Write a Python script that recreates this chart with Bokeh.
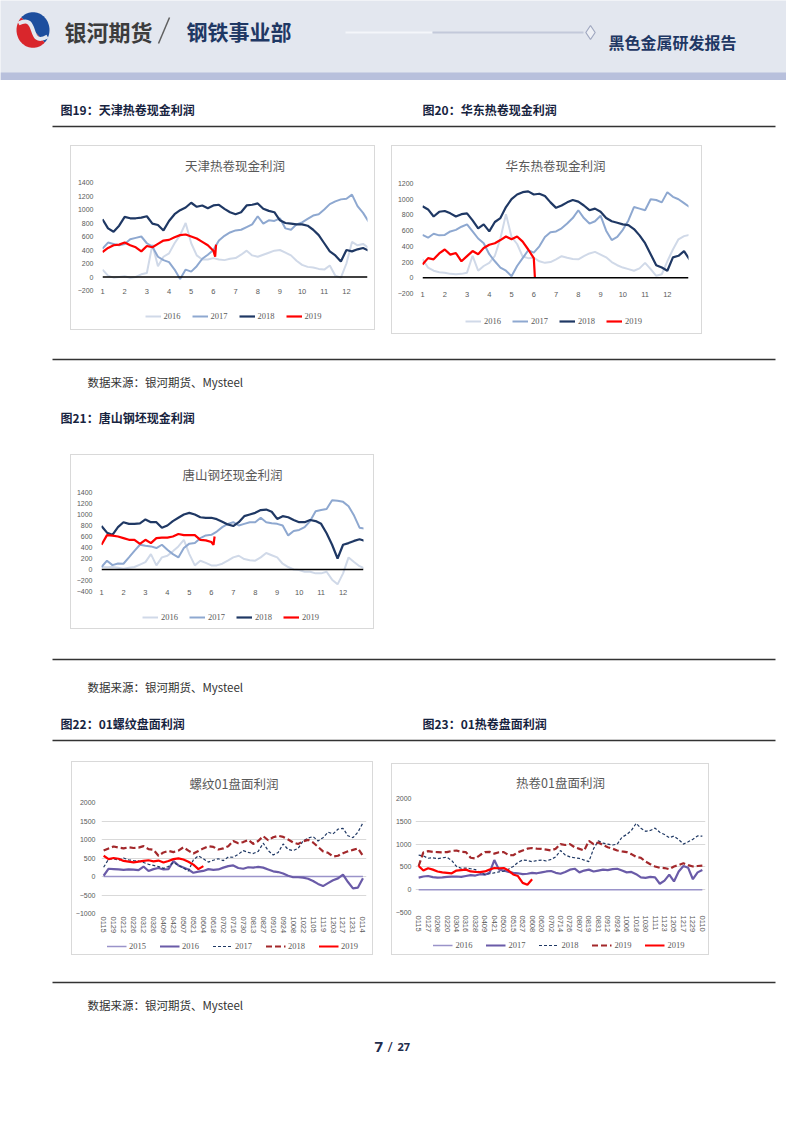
import math
from bokeh.plotting import figure
from bokeh.layouts import column, row
from bokeh.models import Range1d, Spacer, Legend, LegendItem, Span, FixedTicker
from bokeh.core.properties import value
from bokeh.embed import file_html
from bokeh.resources import INLINE

CJK = "Noto Sans CJK SC"
NAVY = "#1F3864"
CAP = "#17243F"
GRAY = "#595959"

# ---------------- data ----------------
month_ticks = [1, 2, 3, 4, 5, 6, 7, 8, 9, 10, 11, 12]
ticks_tj = [-200, 0, 200, 400, 600, 800, 1000, 1200, 1400]
ticks_hd = [-200, 0, 200, 400, 600, 800, 1000, 1200]
ticks_ts = [-400, -200, 0, 200, 400, 600, 800, 1000, 1200, 1400]
ticks_lw = [-1000, -500, 0, 500, 1000, 1500, 2000]
ticks_rj = [-500, 0, 500, 1000, 1500, 2000]

# Fig19 Tianjin HRC cash profit (4 readings per month from month 1)
tj_2016 = [110, 20, -10, 0, 10, -10, 0, 40, 60, 480, 160, 300, 350, 500, 620, 800, 500, 320, 260, 260,
           280, 260, 250, 270, 280, 330, 390, 320, 300, 330, 360, 390, 400, 360, 320, 240, 180, 150, 140, 120,
           110, 170, 20, -10, 200, 520, 470, 490, 430]
tj_2017 = [420, 510, 490, 470, 490, 560, 580, 600, 500, 450, 300, 250, 220, 110, -30, 110, 80, 160, 270, 330,
           400, 540, 610, 660, 690, 700, 740, 780, 900, 790, 840, 830, 870, 720, 700, 780, 810, 860, 910, 930,
           1000, 1080, 1120, 1150, 1160, 1220, 1050, 950, 820]
tj_2018 = [855, 720, 670, 760, 890, 870, 870, 880, 900, 790, 770, 690, 830, 930, 990, 1030, 1100, 1040, 1060, 1020,
           1060, 1070, 1010, 960, 930, 960, 1060, 1070, 1090, 1010, 980, 960, 840, 800, 790, 780, 780, 760, 700, 620,
           500, 380, 320, 230, 400, 380, 410, 430, 390]
tj_2019 = [370, 430, 470, 480, 510, 470, 440, 380, 460, 440, 490, 540, 550, 590, 620, 630, 600, 570, 520, 470, 390]
tj_2019_tail_t = [6.08, 6.12]
tj_2019_tail = [300, 480]

# Fig20 East China HRC cash profit
hd_2016 = [235, 130, 90, 70, 65, 50, 45, 50, 65, 280, 90, 150, 190, 280, 500, 810, 520, 430, 270, 250,
           255, 210, 190, 200, 235, 275, 255, 240, 235, 275, 310, 330, 295, 260, 200, 160, 130, 110, 90, 120,
           190, 110, 25, 45, 210, 360, 490, 530, 545]
hd_2017 = [545, 510, 560, 540, 545, 590, 610, 650, 680, 590, 500, 440, 300, 210, 130, 90, 20, 150, 250, 350,
           320, 400, 520, 580, 590, 630, 690, 760, 860, 760, 690, 720, 790, 600, 480, 520, 610, 730, 900, 880,
           860, 1000, 990, 960, 1090, 1030, 1000, 950, 900]
hd_2018 = [910, 870, 780, 840, 850, 820, 780, 810, 820, 730, 630, 680, 590, 710, 760, 900, 1000, 1060, 1090, 1100,
           1060, 1070, 1040, 960, 890, 920, 960, 990, 970, 920, 860, 880, 840, 760, 720, 700, 680, 670, 620, 540,
           440, 300, 160, 130, 90, 260, 280, 340, 230]
hd_2019 = [170, 250, 235, 310, 360, 295, 315, 210, 275, 340, 300, 380, 420, 440, 480, 525, 490, 525, 460, 360, 250]
hd_2019_tail_t = [6.05]
hd_2019_tail = [0]

# Fig21 Tangshan billet cash profit
ts_2016 = [45, 40, 45, 30, 15, 30, 45, 90, 135, 280, 75, 220, 250, 330, 420, 540, 280, 75, 160, 120,
           75, 75, 105, 160, 220, 250, 190, 170, 160, 220, 300, 260, 220, 105, 45, 0, -10, -40, -40, -70,
           -70, -40, -185, -270, -70, 220, 135, 60, 15]
ts_2017 = [45, 160, 80, 110, 105, 220, 340, 450, 430, 420, 390, 450, 360, 280, 220, 390, 470, 480, 570, 620,
           630, 690, 770, 830, 860, 800, 830, 860, 860, 940, 860, 840, 830, 800, 620, 700, 720, 770, 880, 1060,
           1080, 1100, 1260, 1250, 1230, 1150, 980, 760, 740]
ts_2018 = [790, 670, 630, 770, 860, 830, 830, 840, 910, 860, 860, 760, 800, 880, 940, 1000, 1030, 1000, 950, 940,
           940, 915, 870, 820, 790, 860, 970, 1000, 1030, 1080, 1090, 1050, 920, 970, 950, 900, 860, 860, 900, 880,
           830, 660, 450, 200, 450, 480, 520, 550, 520]
ts_2019 = [450, 625, 615, 600, 570, 540, 540, 465, 540, 480, 570, 580, 580, 600, 645, 625, 625, 625, 540, 530, 500]
ts_2019_tail_t = [6.1, 6.15]
ts_2019_tail = [450, 600]

# Fig22 rebar 01 futures profit (weekly readings from 0115)
lw_tick_labels = ["0115", "0129", "0212", "0226", "0312", "0326", "0409", "0423", "0507", "0521", "0604", "0618",
                  "0702", "0716", "0730", "0813", "0827", "0910", "0924", "1008", "1022", "1105", "1119", "1203",
                  "1217", "1231", "0114"]
lw_2015 = [0, 0, 0, 0, 0, 0, 0, 0, 0, 0, 0, 0, 0, 0, 0, 0, 0, 0, 0, 0, 0, 0, 0, 0, 0, 0, 0]
lw_2016 = [20, 210, 200, 190, 180, 190, 185, 170, 270, 150, 200, 230, 190, 200, 420, 300, 240, 190, 100, 130,
           150, 200, 180, 190, 240, 280, 300, 230, 210, 250, 240, 260, 240, 190, 140, 120, 80, 20, -20, -20,
           -30, -60, -120, -200, -260, -180, -100, -50, 50, -150, -320, -300, -50]
lw_2017 = [250, 470, 480, 440, 500, 450, 430, 420, 380, 330, 300, 270, 220, 270, 380, 300, 230, 150, 450, 560,
           480, 390, 440, 480, 430, 530, 520, 600, 700, 650, 620, 680, 900, 700, 580, 650, 880, 730, 700, 760,
           960, 1040, 1080, 960, 1050, 1200, 1150, 1280, 1300, 1100, 1050, 1200, 1450]
lw_2018 = [700, 760, 810, 780, 760, 790, 770, 780, 820, 740, 720, 560, 650, 690, 660, 700, 790, 700, 620, 690,
           760, 820, 800, 730, 760, 820, 960, 900, 930, 990, 880, 960, 1090, 980, 1060, 1100, 1070, 1000, 920, 880,
           950, 990, 920, 800, 680, 640, 540, 560, 630, 680, 720, 760, 560]
lw_2019 = [560, 470, 500, 480, 420, 400, 380, 400, 420, 440, 410, 430, 380, 420, 470, 490, 460, 400, 320, 200, 280]

# Fig23 HRC 01 futures profit (readings every 6 days from 0115)
rj_tick_labels = ["0115", "0127", "0208", "0220", "0304", "0316", "0328", "0409", "0421", "0503", "0515", "0527",
                  "0608", "0620", "0702", "0714", "0726", "0807", "0819", "0831", "0912", "0924", "1006", "1018",
                  "1030", "1111", "1123", "1205", "1217", "1229", "0110"]
rj_2016 = [0, 0, 0, 0, 0, 0, 0, 0, 0, 0, 0, 0, 0, 0, 0, 0, 0, 0, 0, 0, 0, 0, 0, 0, 0, 0, 0, 0, 0, 0, 0]
rj_2017 = [265, 290, 300, 275, 265, 270, 280, 285, 290, 280, 300, 320, 310, 340, 330, 370, 650, 440, 420, 390,
           370, 360, 340, 350, 370, 360, 380, 400, 410, 370, 350, 390, 440, 460, 380, 420, 440, 400, 420, 440,
           430, 450, 460, 420, 380, 390, 340, 270, 260, 280, 270, 130, 200, 330, 180, 400, 520, 480, 230, 380, 430]
rj_2018 = [760, 740, 690, 700, 680, 700, 710, 640, 510, 470, 475, 460, 440, 380, 335, 350, 370, 390, 405, 450,
           510, 600, 650, 640, 615, 640, 650, 630, 665, 720, 860, 760, 720, 700, 685, 650, 615, 900, 1070, 1020,
           1000, 980, 1000, 1150, 1210, 1300, 1455, 1350, 1280, 1300, 1350, 1260, 1210, 1140, 1175, 1100, 1000,
           1050, 1105, 1180, 1175]
rj_2019d = [520, 820, 845, 830, 825, 820, 825, 850, 860, 830, 825, 700, 685, 760, 825, 830, 790, 820, 825, 760,
            755, 820, 860, 900, 915, 900, 895, 880, 860, 900, 1000, 980, 1000, 930, 895, 860, 1070, 1000, 1035, 980,
            930, 900, 860, 840, 825, 780, 720, 700, 615, 560, 510, 480, 475, 450, 510, 540, 580, 540, 510, 520, 530]
rj_2019 = [520, 420, 470, 440, 400, 380, 370, 360, 420, 430, 440, 400, 390, 385, 400, 440, 475, 470, 475, 420,
           335, 300, 150, 110, 230]


def months(vals):
    return [1 + i / 4 for i in range(len(vals))]


def days(vals, step):
    return [step * i for i in range(len(vals))]


# ---------------- helpers ----------------
BOX_STYLE = {"background-color": "white", "box-shadow": "inset 0 0 0 1px #D9D9D9"}


def base_fig(w, h, mb, xr, yr):
    p = figure(width=w, height=h, x_range=Range1d(*xr), y_range=Range1d(*yr),
               output_backend="svg", toolbar_location=None,
               min_border_left=mb[0], min_border_right=mb[1],
               min_border_top=mb[2], min_border_bottom=mb[3])
    p.outline_line_color = None
    p.background_fill_color = "white"
    p.border_fill_color = "white"
    p.border_fill_alpha = 0
    return p


def style_axes(p, ystand, xstand, xsize="7px"):
    for ax in (p.xaxis[0], p.yaxis[0]):
        ax.axis_line_color = None
        ax.major_tick_line_color = None
        ax.minor_tick_line_color = None
        ax.major_tick_out = 0
        ax.major_tick_in = 0
        ax.minor_tick_out = 0
        ax.minor_tick_in = 0
        ax.major_label_text_color = GRAY
        ax.major_label_text_font = "Liberation Sans"
        ax.major_label_text_font_size = "7px"
    p.xaxis[0].major_label_text_font_size = xsize
    p.yaxis[0].major_label_standoff = ystand
    p.xaxis[0].major_label_standoff = xstand


def style_title(p, text, off, standoff):
    p.title.text = text
    p.title.align = "center"
    p.title.text_font = CJK
    p.title.text_font_size = "12.5px"
    p.title.text_font_style = "normal"
    p.title.text_color = GRAY
    p.title.offset = off
    p.title.standoff = standoff


def legend_fig(w, h, series, gw, spacing):
    """Strip under the chart carrying its legend; the handles sit outside the strip's ranges."""
    lf = figure(width=w, height=h, x_range=Range1d(0, 1), y_range=Range1d(0, 1),
                output_backend="svg", toolbar_location=None, min_border=0,
                x_axis_location=None, y_axis_location=None)
    lf.grid.visible = False
    lf.outline_line_color = None
    lf.background_fill_alpha = 0
    lf.border_fill_alpha = 0
    items = []
    for s in series:
        label, color, lw, dash = s[0], s[3], s[4], (s[5] if len(s) > 5 else "solid")
        r = lf.line(x=[5, 6], y=[5, 5], line_color=color, line_width=lw, line_dash=dash)
        items.append(LegendItem(label=value(label), renderers=[r]))
    leg = Legend(items=items, orientation="horizontal", location="center",
                 label_text_font="Liberation Serif", label_text_font_size="8.5px",
                 label_text_color=GRAY, glyph_width=gw, glyph_height=8,
                 label_standoff=3, spacing=spacing, padding=0, margin=0,
                 border_line_color=None, background_fill_alpha=0)
    lf.add_layout(leg)
    return lf


C16, C17, C18, C19 = "#D0D9E8", "#8EA8D0", "#1F3864", "#FF0000"


def monthly_chart(title, w, hc, hl, mb, xhi, yticks, series, toff, tstand):
    p = base_fig(w, hc, mb, (1, xhi), (yticks[0], yticks[-1]))
    p.grid.visible = False
    style_title(p, title, toff, tstand)
    for label, xs, ys, color, lw in series:
        p.line(xs, ys, line_color=color, line_width=lw)
    p.add_layout(Span(location=0, dimension="width", line_color="#000000", line_width=1.5))
    p.yaxis[0].ticker = FixedTicker(ticks=yticks)
    p.xaxis[0].ticker = FixedTicker(ticks=month_ticks)
    style_axes(p, 9, -2, "7.5px")
    lf = legend_fig(w, hl, series, 16, 8)
    return column(p, lf, styles=BOX_STYLE)


def daily_chart(title, w, hc, hl, mb, xr, yticks, tick_step, tick_labels, series, toff, ystand, tstand):
    p = base_fig(w, hc, mb, xr, (yticks[0], yticks[-1]))
    p.xgrid.visible = False
    p.ygrid[0].grid_line_color = "#D9D9D9"
    p.ygrid[0].grid_line_width = 1
    style_title(p, title, toff, tstand)
    for label, xs, ys, color, lw, dash in series:
        p.line(xs, ys, line_color=color, line_width=lw, line_dash=dash)
    p.yaxis[0].ticker = FixedTicker(ticks=yticks)
    tpos = [tick_step * i for i in range(len(tick_labels))]
    p.xaxis[0].ticker = FixedTicker(ticks=tpos)
    p.xaxis[0].major_label_overrides = {t: s for t, s in zip(tpos, tick_labels)}
    p.xaxis[0].major_label_orientation = "vertical"
    style_axes(p, ystand, 3, "7.5px")
    lf = legend_fig(w, hl, series, 20, 10)
    return column(p, lf, styles=BOX_STYLE)


def band(y0, y1, bg="white"):
    p = figure(width=786, height=y1 - y0, x_range=Range1d(8, 794), y_range=Range1d(y1, y0),
               output_backend="svg", toolbar_location=None, min_border=0,
               x_axis_location=None, y_axis_location=None)
    p.grid.visible = False
    p.outline_line_color = None
    p.background_fill_color = bg
    p.border_fill_color = bg
    return p


def caption(p, x, y, txt):
    p.text(x=[x], y=[y], text=[txt], text_font=value(CJK), text_font_size="12px",
           text_font_style="bold", text_color=CAP, text_baseline="middle", text_align="left")


def source(p, y):
    p.text(x=[95], y=[y], text=["数据来源：银河期货、Mysteel"], text_font=value(CJK),
           text_font_size="11.5px", text_color="#333333", text_baseline="middle", text_align="left")


def rule(p, y):
    p.segment(x0=[60], y0=[y], x1=[783], y1=[y], line_color="#333333", line_width=1.5)


# ---------------- header ----------------
hdr = band(8, 88, "#E3E7EF")
hdr.quad(left=[8], right=[794], top=[80], bottom=[88], fill_color="#B8C0DC", line_color=None)
lx, ly, lr = 40.5, 37.5, 16.5
blue_x = [lx + lr * math.cos(math.radians(a)) for a in range(-45, 136, 5)]
blue_y = [ly - lr * 1.08 * math.sin(math.radians(a)) for a in range(-45, 136, 5)]
red_x = [lx + lr * math.cos(math.radians(a)) for a in range(135, 316, 5)]
red_y = [ly - lr * 1.08 * math.sin(math.radians(a)) for a in range(135, 316, 5)]
hdr.patch(blue_x, blue_y, fill_color="#1D4E9E", line_color=None)
hdr.patch(red_x, red_y, fill_color="#D9262C", line_color=None)
hdr.bezier(x0=[26], y0=[31], x1=[55], y1=[44], cx0=[47], cy0=[20], cx1=[34], cy1=[56],
           line_color="#E3E7EF", line_width=4)
hdr.text(x=[72], y=[38], text=["银河期货"], text_font=value(CJK), text_font_size="22px",
         text_font_style="bold", text_color="#3C3C3C", text_baseline="middle")
hdr.segment(x0=[166], y0=[51], x1=[177], y1=[25], line_color="#606060", line_width=1.5)
hdr.text(x=[194], y=[38], text=["钢铁事业部"], text_font=value(CJK), text_font_size="21px",
         text_font_style="bold", text_color=NAVY, text_baseline="middle")
hdr.segment(x0=[353], y0=[40], x1=[440], y1=[40], line_color="#F4F6FA", line_width=2)
hdr.segment(x0=[440], y0=[40], x1=[591], y1=[40], line_color="#C3C9DA", line_width=2)
hdr.scatter(x=[598], y=[40], marker="diamond", size=14, fill_color="#EEF0F5", line_color="#A0A8C0",
            line_width=1.2)
hdr.text(x=[616], y=[49], text=["黑色金属研发报告"], text_font=value(CJK), text_font_size="16px",
         text_font_style="bold", text_color=NAVY, text_baseline="middle")

# ---------------- bands ----------------
b1 = band(88, 150)
caption(b1, 68, 117, "图19：天津热卷现金利润")
caption(b1, 430, 117, "图20：华东热卷现金利润")
rule(b1, 134)

b2 = band(345, 462)
rule(b2, 367)
source(b2, 389)
caption(b2, 68, 425, "图21：唐山钢坯现金利润")

b3 = band(637, 769)
rule(b3, 667)
source(b3, 694)
caption(b3, 68, 731, "图22：01螺纹盘面利润")
caption(b3, 430, 731, "图23：01热卷盘面利润")
rule(b3, 748)

b4 = band(963, 1123)
rule(b4, 990)
source(b4, 1012)
b4.text(x=[382], y=[1054], text=["7"], text_font=value("Noto Sans"), text_font_size="15px",
        text_font_style="bold", text_color="#1F2D4D", text_baseline="alphabetic")
b4.text(x=[395], y=[1054], text=["/"], text_font=value("Noto Sans"), text_font_size="14px",
        text_color="#1F2D4D", text_baseline="alphabetic")
b4.text(x=[405], y=[1054], text=["27"], text_font=value("Noto Sans"), text_font_size="11px",
        text_font_style="bold", text_color="#1F2D4D", text_baseline="alphabetic")

# ---------------- charts ----------------
ch19 = monthly_chart("天津热卷现金利润", 305, 157, 28, (32, 8, 35, 12), 12.95, ticks_tj, [
    ("2016", months(tj_2016), tj_2016, C16, 2),
    ("2017", months(tj_2017), tj_2017, C17, 2),
    ("2018", months(tj_2018), tj_2018, C18, 2.2),
    ("2019", months(tj_2019) + tj_2019_tail_t, tj_2019 + tj_2019_tail, C19, 2.2),
], -10, 16)

ch20 = monthly_chart("华东热卷现金利润", 311, 163, 26, (31, 14, 36, 15), 12.95, ticks_hd, [
    ("2016", months(hd_2016), hd_2016, C16, 2),
    ("2017", months(hd_2017), hd_2017, C17, 2),
    ("2018", months(hd_2018), hd_2018, C18, 2.2),
    ("2019", months(hd_2019) + hd_2019_tail_t, hd_2019 + hd_2019_tail, C19, 2.2),
], -10, 17)

ch21 = monthly_chart("唐山钢坯现金利润", 304, 151, 24, (31, 11, 34, 14), 12.93, ticks_ts, [
    ("2016", months(ts_2016), ts_2016, C16, 2),
    ("2017", months(ts_2017), ts_2017, C17, 2),
    ("2018", months(ts_2018), ts_2018, C18, 2.2),
    ("2019", months(ts_2019) + ts_2019_tail_t, ts_2019 + ts_2019_tail, C19, 2.2),
], -10, 17)

P1, P2, NV, DR, RD = "#9A93C9", "#6A5BA8", "#1F3864", "#A3282B", "#FF0000"

ch22 = daily_chart("螺纹01盘面利润", 302, 175, 19, (30, 7, 32, 21), (-3, 369), ticks_lw, 14, lw_tick_labels, [
    ("2015", days(lw_2015, 14), lw_2015, P1, 1.5, "solid"),
    ("2016", days(lw_2016, 7), lw_2016, P2, 2.2, "solid"),
    ("2017", days(lw_2017, 7), lw_2017, NV, 1.2, "3 2"),
    ("2018", days(lw_2018, 7), lw_2018, DR, 2.2, "6 3"),
    ("2019", days(lw_2019, 7), lw_2019, RD, 2.2, "solid"),
], -11, 6, 20)

ch23 = daily_chart("热卷01盘面利润", 318, 172, 20, (24, 4, 31, 21), (-4, 364), ticks_rj, 12, rj_tick_labels, [
    ("2016", days(rj_2016, 12), rj_2016, P1, 1.5, "solid"),
    ("2017", days(rj_2017, 6), rj_2017, P2, 2.2, "solid"),
    ("2018", days(rj_2018, 6), rj_2018, NV, 1.2, "3 2"),
    ("2019", days(rj_2019d, 6), rj_2019d, DR, 2.2, "6 3"),
    ("2019", days(rj_2019, 6), rj_2019, RD, 2.2, "solid"),
], -8, 4, 14)

# ---------------- layout ----------------
r1 = row(Spacer(width=70, height=195),
         column(Spacer(width=305, height=3), ch19, Spacer(width=305, height=7)),
         Spacer(width=16, height=195),
         column(Spacer(width=311, height=3), ch20, Spacer(width=311, height=3)),
         Spacer(width=84, height=195))
r2 = row(Spacer(width=70, height=175), ch21, Spacer(width=412, height=175))
r3 = row(Spacer(width=71, height=194), ch22, Spacer(width=18, height=194),
         column(Spacer(width=318, height=2), ch23),
         Spacer(width=77, height=194))

page = column(hdr, b1, r1, b2, r2, b3, r3, b4)

open("out.html", "w").write(file_html(page, INLINE))
